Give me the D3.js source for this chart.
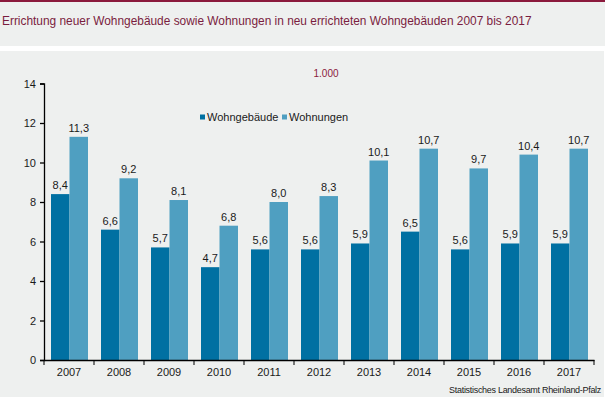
<!DOCTYPE html>
<html>
<head>
<meta charset="utf-8">
<title></title>
<style>
  body { margin: 0; background: #eef0ef; }
  svg { display: block; font-family: Arial, "Liberation Sans", sans-serif; }
</style>
</head>
<body>
<script src="https://cdn.jsdelivr.net/npm/d3@7"></script>
<script type="text/javascript">

    var years = ['2007', '2008', '2009', '2010', '2011', '2012', '2013', '2014', '2015', '2016', '2017'];
    var gebaeude = [8.4, 6.6, 5.7, 4.7, 5.6, 5.6, 5.9, 6.5, 5.6, 5.9, 5.9];
    var wohnungen = [11.3, 9.2, 8.1, 6.8, 8.0, 8.3, 10.1, 10.7, 9.7, 10.4, 10.7];
    var seriesNames = ['Wohngebäude', 'Wohnungen'];
    var yTicks = [0, 2, 4, 6, 8, 10, 12, 14];

    var colors = ['#0070a2', '#4f9fc1'];
    var width = 605, height = 397;

    var svg = d3.select('body')
                .append('svg')
                    .attr('width', width)
                    .attr('height', height);

    // frame: red top line, white separator and right edge
    svg.append('rect').attr('x', 0).attr('y', 0).attr('width', width).attr('height', 2).attr('fill', '#8b1a3c');
    svg.append('rect').attr('x', 0).attr('y', 46).attr('width', width).attr('height', 5).attr('fill', '#ffffff');
    svg.append('rect').attr('x', 604).attr('y', 51).attr('width', 1).attr('height', height - 51).attr('fill', '#ffffff');

    svg.append('text')
        .attr('x', 2)
        .attr('y', 25)
        .attr('fill', '#7a1d40')
        .style('font-size', '11.9px')
        .text('Errichtung neuer Wohngebäude sowie Wohnungen in neu errichteten Wohngebäuden 2007 bis 2017');

    var x = d3.scaleBand()
                .domain(years)
                .range([44, 594]);

    var y = d3.scaleLinear()
                .domain([0, 14])
                .range([360, 83.5]);

    // bars
    var barW = 18.5;
    var off = 7;
    var data = [gebaeude, wohnungen];

    data.forEach(function(vals, s) {
        svg.append('g')
            .selectAll('rect')
            .data(vals)
            .enter()
            .append('rect')
                .attr('x', function(d, i) { return x(years[i]) + off + s * barW; })
                .attr('y', function(d) { return y(d); })
                .attr('width', barW)
                .attr('height', function(d) { return y(0) - y(d); })
                .attr('fill', colors[s]);

        svg.append('g')
            .selectAll('text')
            .data(vals)
            .enter()
            .append('text')
                .attr('x', function(d, i) { return x(years[i]) + off + s * barW + barW / 2; })
                .attr('y', function(d) { return y(d) - 5; })
                .attr('text-anchor', 'middle')
                .attr('fill', '#1a1a1a')
                .style('font-size', '11px')
                .text(function(d) { return d.toFixed(1).replace('.', ','); });
    });

    // axes
    var yAxis = d3.axisLeft(y)
                    .tickValues(yTicks)
                    .tickSize(4)
                    .tickPadding(4)
                    .tickFormat(d3.format('d'));

    var yg = svg.append('g')
                .attr('transform', 'translate(44, 0)')
                .call(yAxis);

    var xAxis = d3.axisBottom(x)
                    .tickSize(0)
                    .tickPadding(8);

    var xg = svg.append('g')
                .attr('transform', 'translate(0, 360)')
                .call(xAxis);

    // tick marks between the years
    xg.selectAll('line.sep')
        .data(years.concat(['end']))
        .enter()
        .append('line')
            .attr('class', 'sep')
            .attr('x1', function(d, i) { return 44 + i * x.step(); })
            .attr('x2', function(d, i) { return 44 + i * x.step(); })
            .attr('y1', 0)
            .attr('y2', 5)
            .attr('stroke', '#000');

    [yg, xg].forEach(function(g) {
        g.select('.domain').attr('stroke', '#000').attr('stroke-width', 1.3);
        g.selectAll('.tick line').attr('stroke', '#000').attr('stroke-width', 1.3);
        g.selectAll('text').attr('fill', '#1a1a1a').style('font-size', '11px').style('font-family', 'Arial, "Liberation Sans", sans-serif');
    });

    // legend
    var legend = svg.append('g');
    var legX = [200, 282];
    seriesNames.forEach(function(n, i) {
        legend.append('rect')
            .attr('x', legX[i]).attr('y', 114.5)
            .attr('width', 5).attr('height', 5)
            .attr('fill', colors[i]);
        legend.append('text')
            .attr('x', legX[i] + 7).attr('y', 121)
            .attr('fill', '#1a1a1a')
            .style('font-size', '11px')
            .text(n);
    });

    svg.append('text')
        .attr('x', 326).attr('y', 77)
        .attr('text-anchor', 'middle')
        .attr('fill', '#8b1a3c')
        .style('font-size', '10px')
        .text('1.000');

    svg.append('text')
        .attr('x', 601).attr('y', 393)
        .attr('text-anchor', 'end')
        .attr('fill', '#1a1a1a')
        .style('font-size', '9px')
        .style('letter-spacing', '-0.3px')
        .text('Statistisches Landesamt Rheinland-Pfalz');

</script>
</body>
</html>
